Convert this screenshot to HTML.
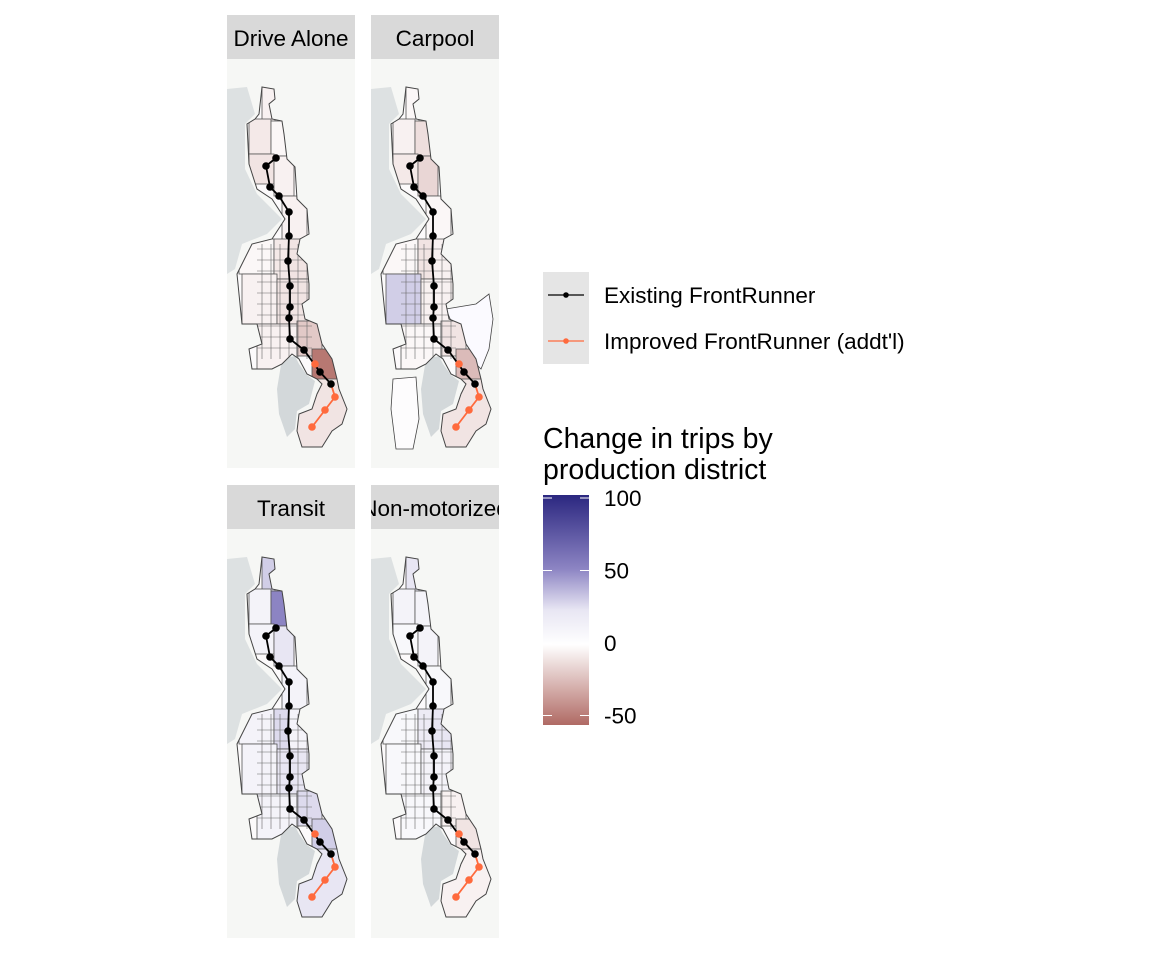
<!DOCTYPE html>
<html><head><meta charset="utf-8"><style>
body{margin:0;background:#fff;font-family:"Liberation Sans",sans-serif}
svg text{font-family:"Liberation Sans",sans-serif}
</style></head><body>
<svg id="c" width="1152" height="960" viewBox="0 0 1152 960" xmlns="http://www.w3.org/2000/svg">
<defs>
<linearGradient id="cg" x1="0" y1="1" x2="0" y2="0">
<stop offset="0" stop-color="#b06a64"/><stop offset="0.35" stop-color="#ffffff"/><stop offset="0.5" stop-color="#e8e6f3"/><stop offset="0.68" stop-color="#8c84c3"/><stop offset="1" stop-color="#2b2780"/>
</linearGradient>
</defs>
<g id="panels"></g>
<g>
<rect x="543" y="272" width="46" height="92" fill="#e5e5e5"/>
<line x1="548" y1="295" x2="584" y2="295" stroke="#000" stroke-width="1.2"/><circle cx="566" cy="295" r="2.8" fill="#000"/>
<text x="604" y="303" font-size="22.5">Existing FrontRunner</text>
<line x1="548" y1="341" x2="584" y2="341" stroke="#ff6a3d" stroke-width="1.2"/><circle cx="566" cy="341" r="2.8" fill="#ff6a3d"/>
<text x="604" y="349" font-size="22.5">Improved FrontRunner (addt'l)</text>
</g>
<g>
<text x="543" y="448" font-size="28.5">Change in trips by</text>
<text x="543" y="479" font-size="28.5">production district</text>
<rect x="543" y="495" width="46" height="230" fill="url(#cg)"/>
<g id="cbticks"></g>
</g>
</svg>
<script>
const modes=["Drive Alone","Carpool","Transit","Non-motorized"];
const valDA=[-5,-8,-3,-10,-5,-5,-3,-8,-10,-5,-10,-5,-20,-50,-10];
const valCP=[-3,-5,-12,-8,-15,-3,-3,-10,-5,20,-5,-3,-10,-25,-10];
const valTR=[20,5,50,5,10,5,5,15,5,5,10,5,15,20,10];
const valNM=[10,5,5,3,5,3,3,8,10,3,5,3,-5,-10,-5];
const colorTicks=[100,50,0,-50];
const existing=[[49,99],[39,107],[43,128],[52,137],[62,153],[62,177],[61,202],[63,227],[63,248],[62,259],[63,280],[77,291],[93,313],[104,325]];
const improved=[[88,305],[108,338],[98,351],[85,368]];
const vals=[valDA,valCP,valTR,valNM];
const zones=[[35,28,13,35],[22,60,22,35],[44,62,16,35],[22,95,25,30],[47,97,20,40],[55,137,25,45],[12,180,35,35],[47,180,15,40],[62,180,20,40],[15,215,35,50],[50,220,32,45],[30,265,40,50],[70,262,25,35],[85,290,27,35],[60,320,60,72]];
const outline="35,28 47,30 48,40 42,45 45,60 55,62 57,75 60,100 68,108 70,140 80,150 82,175 73,180 70,195 80,205 82,225 82,240 75,245 78,260 90,265 95,285 105,300 110,320 112,330 120,350 115,365 105,372 95,388 75,388 70,372 72,355 85,350 90,335 95,325 90,320 80,315 72,300 65,295 55,305 45,310 25,310 22,290 35,285 30,265 15,265 10,215 25,185 45,180 58,160 45,140 30,130 22,105 20,65 28,60 32,55";
const NS="http://www.w3.org/2000/svg";
const cy=v=>643-(v/50)*72.5;
function col(v){
  const mix=(a,b,t)=>a.map((x,i)=>Math.round(x+(b[i]-x)*t));
  let c;
  if(v>=0){const t=Math.min(v/100,1); c=t<0.5?mix([255,255,255],[140,132,195],t*2):mix([140,132,195],[43,39,128],(t-0.5)*2);}
  else{const t=Math.min(-v/55,1); c=mix([255,255,255],[176,106,100],t);}
  return `rgb(${c})`;
}
function el(tag,attrs,parent){const e=document.createElementNS(NS,tag);for(const k in attrs)e.setAttribute(k,attrs[k]);parent.appendChild(e);return e;}
const P=document.getElementById('panels');
const pos=[[227,15],[371,15],[227,485],[371,485]];
modes.forEach((m,i)=>{
  const [px,py]=pos[i];
  const g=el('g',{transform:`translate(${px},${py})`},P);
  
  
  const s=el('rect',{x:0,y:0,width:128,height:44,fill:'#d9d9d9'},g);
  
  
  const cp=el('clipPath',{id:'sc'+i},g);el('rect',{x:0,y:0,width:128,height:44},cp);
  const t=el('text',{x:64,y:31,'font-size':22.5,'text-anchor':'middle','clip-path':`url(#sc${i})`},g);t.textContent=m;
  
  
  const mg=el('g',{transform:'translate(0,44)'},g);
  const bg=el('rect',{x:0,y:0,width:128,height:409,fill:'#f6f7f5'},mg);
  
  
  el('path',{d:'M0,30 L20,28 L28,55 L18,65 L18,110 L30,135 L40,145 L55,160 L40,175 L15,185 L8,210 L0,215 Z',fill:'#dde1e2'},mg);
  el('path',{d:'M55,300 L68,297 L72,305 L80,316 L88,322 L82,345 L70,352 L68,370 L60,378 L52,355 L50,330 Z',fill:'#d3d8da'},mg);
  if(i==1){el('polygon',{points:'75,250 105,245 118,235 122,260 118,290 110,310 100,300 90,280 80,262',fill:'#fbfaff',stroke:'#444','stroke-width':0.8},mg);
    el('polygon',{points:'22,320 45,318 48,360 42,390 25,390 20,350',fill:'#fdfcfd',stroke:'#444','stroke-width':0.8},mg);}
  const cl=el('clipPath',{id:'oc'+i},mg);el('polygon',{points:outline},cl);
  el('polygon',{points:outline,fill:'#fcfafb'},mg);
  const zg=el('g',{'clip-path':`url(#oc${i})`},mg);
  vals[i].forEach((v,j)=>{
    const z=zones[j];
    const r=el('rect',{x:z[0],y:z[1],width:z[2],height:z[3],fill:col(v),stroke:'#555','stroke-width':0.8},zg);
    
    
  });
  for(let y=190;y<300;y+=11)el('line',{x1:30,y1:y,x2:85,y2:y,stroke:'#666','stroke-width':0.6},zg);
  for(let x=35;x<85;x+=9)el('line',{x1:x,y1:185,x2:x,y2:300,stroke:'#666','stroke-width':0.6},zg);
  el('polygon',{points:outline,fill:'none',stroke:'#444','stroke-width':1},mg);
  const ex=el('polyline',{points:existing.map(p=>p.join(',')).join(' '),fill:'none',stroke:'#000','stroke-width':1.8},mg);
  
  
  const im=el('polyline',{points:[existing[existing.length-1]].concat(improved.slice(1)).map(p=>p.join(',')).join(' '),fill:'none',stroke:'#ff6a3d','stroke-width':1.8},mg);
  
  
  existing.forEach(p=>{const c=el('circle',{cx:p[0],cy:p[1],r:3.8,fill:'#000'},mg);
    
    });
  improved.forEach(p=>{const c=el('circle',{cx:p[0],cy:p[1],r:3.8,fill:'#ff6a3d'},mg);
    
    });
});
const T=document.getElementById('cbticks');
colorTicks.forEach(v=>{
  const y=cy(v);
  el('line',{x1:543,y1:y,x2:552,y2:y,stroke:'#fff','stroke-width':1},T);
  el('line',{x1:580,y1:y,x2:589,y2:y,stroke:'#fff','stroke-width':1},T);
  const t=el('text',{x:604,y:y+8,'font-size':22.5},T);t.textContent=v;
  
  
});
</script>
</body></html>
